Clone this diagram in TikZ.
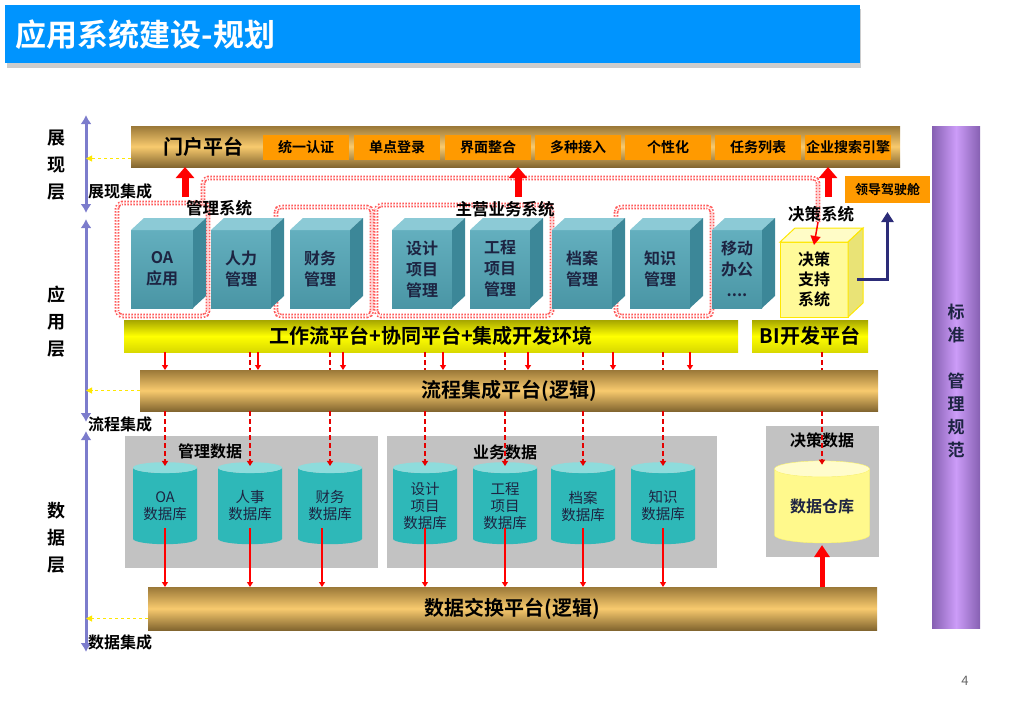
\documentclass[tikz,border=0pt]{standalone}
\usepackage{fontspec}
\setmainfont{Noto Sans CJK SC}[BoldFont={* Bold}]
\usetikzlibrary{positioning,arrows.meta,shapes.geometric}
\tikzset{>={Triangle[width=6pt,length=5pt]}}
\definecolor{titleblue}{HTML}{0094FE}
\definecolor{gold}{HTML}{F8CA6E}
\definecolor{golddk}{HTML}{9A7838}
\definecolor{porange}{HTML}{FF9A00}
\definecolor{cubefr}{HTML}{52A6B7}
\definecolor{cubetp}{HTML}{8CCAD6}
\definecolor{cubesd}{HTML}{3C8798}
\definecolor{axisblue}{HTML}{7C7CCC}
\definecolor{dbteal}{HTML}{2EB8B8}
\definecolor{dbtop}{HTML}{8EDCDC}
\definecolor{areagray}{HTML}{C2C2C2}
\definecolor{purpmid}{HTML}{CC9CF8}
\definecolor{purpdk}{HTML}{8660B2}
\definecolor{navyblue}{HTML}{2C2C78}
\definecolor{txtdk}{HTML}{1D2442}

\begin{document}
\begin{tikzpicture}[x=1pt, y=-1pt,
    bar/.style={inner sep=0pt, outer sep=0pt, anchor=north west},
    goldbar/.style={bar, top color=golddk, bottom color=golddk!85!black, middle color=gold, font=\fontsize{20}{22}\selectfont\bfseries},
    yelbar/.style={bar, top color=yellow!65!black, bottom color=yellow!85!black, middle color=yellow, font=\fontsize{20}{22}\selectfont\bfseries},
    pbox/.style={bar, fill=porange, minimum height=25pt, font=\fontsize{14}{16}\selectfont\bfseries},
    cubefront/.style={bar, top color=cubefr!90!white, bottom color=cubefr!90!black, minimum height=78pt, align=center, text=txtdk, font=\fontsize{16}{21}\selectfont\bfseries},
    cubetop/.style={fill=cubetp},
    cubeside/.style={fill=cubesd},
    grpframe/.style={draw=red!65, double=white, double distance=1.4pt, line width=1.6pt, dash pattern=on 1.6pt off 1.4pt, rounded corners=5pt},
    grplabel/.style={font=\fontsize{16.5}{18}\selectfont\bfseries},
    area/.style={bar, fill=areagray},
    arealabel/.style={font=\fontsize{16}{18}\selectfont\bfseries},
    db/.style={cylinder, shape border rotate=90, aspect=0.25, draw=none, cylinder uses custom fill, cylinder body fill=dbteal, cylinder end fill=dbtop, minimum width=64pt, minimum height=82pt, inner sep=0pt, align=center, text=txtdk, font=\fontsize{14.5}{17}\selectfont},
    layer/.style={align=center, font=\fontsize{18}{27}\selectfont\bfseries},
    integ/.style={font=\fontsize{16}{18}\selectfont\bfseries, anchor=west, inner sep=0pt},
    axisarr/.style={axisblue, line width=3pt, {Latex[width=11pt,length=9pt]}-{Latex[width=11pt,length=9pt]}},
    yeldash/.style={yellow!90!orange, line width=1pt, dashed, -{Triangle[width=6pt,length=6pt]}},
    upblock/.style={red, line width=7pt, -{Triangle[width=18pt,length=11pt]}},
    redarr/.style={red, line width=1.5pt, ->},
    reddash/.style={red!90!black, line width=1.5pt, dash pattern=on 5pt off 3pt},
  ]
  \useasboundingbox (0,0) rectangle (1024,709);
  % title
  \fill[gray!40] (7,9) rectangle (861,68);
  \node[bar, fill=titleblue, minimum width=855pt, minimum height=58pt] (title) at (5,5) {};
  \node[anchor=west, text=white, font=\fontsize{31}{33}\selectfont\bfseries] (titletxt) at (12,35) {应用系统建设-规划};

  % layer axis
  \coordinate (a1t) at (86,115); \coordinate (a1b) at (86,213);
  \coordinate (a2t) at (86,219); \coordinate (a2b) at (86,422);
  \coordinate (a3t) at (86,431); \coordinate (a3b) at (86,652);
  \draw[axisarr] (a1t) -- (a1b);
  \draw[axisarr] (a2t) -- (a2b);
  \draw[axisarr] (a3t) -- (a3b);
  \node[layer] (l1) at (56,165) {展\\现\\层};
  \node[layer] (l2) at (56,322) {应\\用\\层};
  \node[layer] (l3) at (56,538) {数\\据\\层};
  \node[integ] (i1) at (88,191) {展现集成};
  \node[integ] (i2) at (88,424) {流程集成};
  \node[integ] (i3) at (88,642) {数据集成};

  % portal
  \node[goldbar, minimum width=769pt, minimum height=41pt] (portal) at (131,126) {};
  \node[font=\fontsize{20}{22}\selectfont\bfseries] (portaltxt) at (203,147) {门户平台};
  \foreach \n/\x/\t in {p1/263/统一认证, p2/354/单点登录, p3/445/界面整合, p4/535/多种接入,
      p5/625/个性化, p6/715/任务列表, p7/805/企业搜索引擎}
    \node[pbox, minimum width=86pt] (\n) at (\x,135) {\t};
  \node[pbox, minimum width=85pt, minimum height=27pt, font=\fontsize{13}{15}\selectfont\bfseries] (ldr) at (845,176) {领导驾驶舱};

  % frames
  \draw[grpframe] (117,203) rectangle (208,316);
  \draw[grpframe] (203,206) -- (203,178) -- (818,178) -- (818,222);
  \coordinate (frend) at (818,222);
  \draw[grpframe] (276,207) rectangle (372,316);
  \draw[grpframe] (376,205) rectangle (552,316);
  \draw[grpframe] (616,207) rectangle (712,316);

  % cubes
  \foreach \n/\x/\w/\t in {oa/131/62/{OA\\应用}, hr/211/60/{人力\\管理}, fin/290/60/{财务\\管理},
      des/392/60/{设计\\项目\\管理}, eng/470/60/{工程\\项目\\管理}, arc/552/60/{档案\\管理},
      kn/630/60/{知识\\管理}, mob/712/50/{移动\\办公\\....}}
  {
    \node[cubefront, minimum width=\w pt] (\n) at (\x,230) {\t};
    \fill[cubetop] (\n.north west) -- ++(13,-12) -- ++(\w,0) -- (\n.north east) -- cycle;
    \fill[cubeside] (\n.north east) -- ++(13,-12) -- ++(0,78) -- (\n.south east) -- cycle;
  }
  \node[bar, fill=yellow!40, draw=yellow!90!orange, line width=1pt, minimum width=68pt, minimum height=75pt,
    align=center, font=\fontsize{16}{20}\selectfont\bfseries] (jc) at (780,242) {决策\\支持\\系统};
  \filldraw[fill=yellow!22, draw=yellow!90!orange, line width=1pt] (jc.north west) -- ++(15,-14) -- ++(68,0) -- (jc.north east) -- cycle;
  \filldraw[fill=yellow!55!white!90!black, draw=yellow!90!orange, line width=1pt] (jc.north east) -- ++(15,-14) -- ++(0,75) -- (jc.south east) -- cycle;
  \node[grplabel] (g1) at (219,208) {管理系统};
  \node[grplabel] (g2) at (505,209) {主营业务系统};
  \node[grplabel] (g3) at (821,214) {决策系统};

  % up arrows
  \foreach \x/\nm in {185/u1, 518/u2, 828/u3} {
    \coordinate (\nm) at (\x,197);
    \draw[upblock] (\nm) -- (\nm |- portal.south);
  }
  \draw[red, line width=1.5pt, -{Triangle[width=10pt,length=9pt]}] (frend) -- ([yshift=-3pt]jc.north);
  \draw[navyblue, line width=3pt, -{Triangle[width=12pt,length=10pt]}] ([xshift=9pt]jc.east) -| ([yshift=-9pt]ldr.south);

  % platforms
  \node[yelbar, minimum width=614pt, minimum height=32pt] (wf) at (124,320) {工作流平台+协同平台+集成开发环境};
  \node[yelbar, minimum width=116pt, minimum height=32pt] (bi) at (752,320) {BI开发平台};
  \node[goldbar, minimum width=738pt, minimum height=41pt] (proc) at (140,370) {流程集成平台(逻辑)};

  % data areas
  \node[area, minimum width=253pt, minimum height=132pt] (mgd) at (125,436) {};
  \node[area, minimum width=330pt, minimum height=132pt] (bzd) at (387,436) {};
  \node[area, minimum width=113pt, minimum height=131pt] (jcd) at (766,426) {};
  \node[arealabel] (mgdl) at (210,451) {管理数据};
  \node[arealabel] (bzdl) at (505,452) {业务数据};
  \node[arealabel] (jcdl) at (822,440) {决策数据};
  \foreach \n/\x/\t in {dboa/165/{OA\\数据库}, dbhr/250/{人事\\数据库}, dbfin/330/{财务\\数据库},
      dbdes/425/{设计\\项目\\数据库}, dbeng/505/{工程\\项目\\数据库}, dbarc/583/{档案\\数据库}, dbkn/663/{知识\\数据库}}
    \node[db] (\n) at (\x,506) {\t};
  \node[db, cylinder body fill=yellow!45, cylinder end fill=yellow!20, draw=yellow!60, minimum width=95pt,
    font=\fontsize{16}{18}\selectfont\bfseries] (dw) at (822,506) {数据仓库};

  % exchange
  \node[goldbar, minimum width=729pt, minimum height=43pt] (xch) at (148,587) {数据交换平台(逻辑)};

  % flows
  \foreach \x in {165,258,343,443,528,613,690}
    \draw[redarr] (\x,0 |- wf.south) -- (\x,0 |- proc.north);
  \foreach \n in {dbhr,dbfin,dbdes,dbeng,dbarc,dbkn}
    \draw[reddash] (\n.north |- wf.south) -- (\n.north |- proc.north);
  \foreach \n in {dboa,dbhr,dbfin,dbdes,dbeng,dbarc,dbkn}
    \draw[reddash, ->] (\n.north |- proc.south) -- ([yshift=-4pt]\n.north);
  \draw[reddash] (dw.north |- bi.south) -- (dw.north |- proc.north);
  \draw[reddash, ->] (dw.north |- proc.south) -- ([yshift=-4pt]dw.north);
  \foreach \n/\s in {dboa/0,dbhr/0,dbfin/-8,dbdes/0,dbeng/0,dbarc/0,dbkn/0}
    \draw[redarr] ([xshift=\s pt, yshift=-22pt]\n.center) -- ([xshift=\s pt]\n.center |- xch.north);
  \draw[red, line width=5pt, -{Triangle[width=15pt,length=12pt]}] (dw.south |- xch.north) -- ([yshift=-2pt]dw.south);

  % integration pointers
  \draw[yeldash] ([yshift=-12pt]portal.west) -- ([yshift=-12pt]portal.west -| a1t);
  \draw[yeldash] (proc.west) -- (proc.west -| a2t);
  \draw[yeldash] ([yshift=-10pt]xch.west) -- ([yshift=-10pt]xch.west -| a3t);

  % standards bar
  \node[bar, left color=purpdk, right color=purpdk, middle color=purpmid, minimum width=48pt, minimum height=502pt] (std) at (932,126) {};
  \node[align=center, text=txtdk, font=\fontsize{17}{23}\selectfont\bfseries] (stdtxt) at (956,381) {标\\准\\ \\管\\理\\规\\范};

  \node[text=gray!80!black, font=\fontsize{13}{15}\selectfont] (pg) at (965,681) {4};
\end{tikzpicture}
\end{document}
